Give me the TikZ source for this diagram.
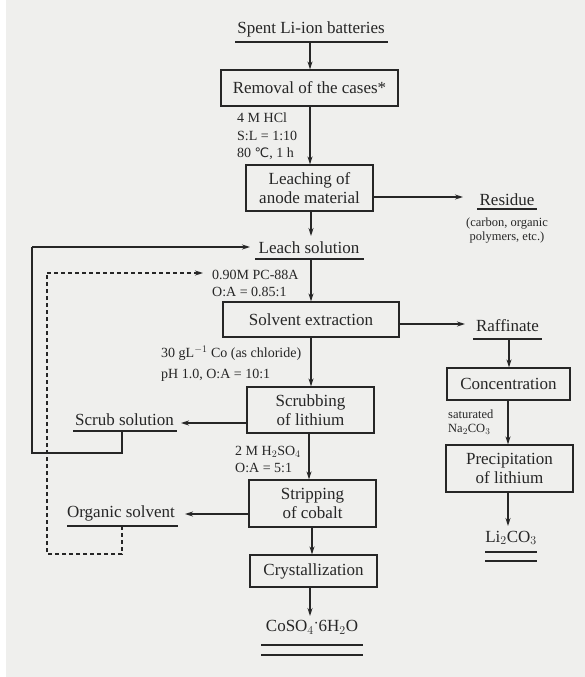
\documentclass[tikz,border=0pt]{standalone}
\usepackage{fontspec}
\setmainfont{Liberation Serif}
\newfontfamily\symfont{DejaVu Sans}
\usetikzlibrary{arrows.meta}
\definecolor{paper}{HTML}{EFEFED}
\definecolor{ink}{HTML}{262626}
\tikzset{
  every node/.style={text=ink, inner sep=0pt},
  proc/.style={draw=ink, line width=1.2pt, fill=paper, align=center, font=\fontsize{17}{19}\selectfont},
  maintext/.style={font=\fontsize{17}{19}\selectfont},
  lbl/.style={font=\fontsize{14}{16}\selectfont, anchor=west},
  small/.style={font=\fontsize{12.5}{14}\selectfont},
  ln/.style={draw=ink, line width=1.2pt},
  arr/.style={ln, -{Stealth[length=8pt,width=5pt]}},
  dsh/.style={ln, dash pattern=on 4pt off 3pt},
  darr/.style={dsh, -{Stealth[length=8pt,width=5pt]}}
}
\begin{document}
\begin{tikzpicture}[x=1pt,y=-1pt]
\useasboundingbox (0,0) rectangle (585,677);
\fill[white] (0,0) rectangle (585,677);
\fill[paper] (6,0) rectangle (585,677);

% main column
\node[maintext] (spent) at (311,29) {Spent Li-ion batteries};
\coordinate (spentL) at (235,42); \coordinate (spentR) at (388,42);
\draw[ln] (spentL) -- (spentR);
\coordinate (spentB) at (310,42);

\node[proc, minimum width=177pt, minimum height=36pt] (removal) at (309.5,88) {Removal of the cases*};
\node[proc, minimum width=127pt, minimum height=46pt] (leach) at (309.5,188) {Leaching of\\anode material};

\node[lbl] (hcl) at (237,118) {4 M HCl};
\node[lbl] (sl) at (237,136) {S:L = 1:10};
\node[lbl] (temp) at (237,154) {80 {\symfont\fontsize{13}{15}\selectfont ℃}, 1 h};

\draw[arr] (spentB) -- (spentB |- removal.north);
\draw[arr] (removal.south -| 310,0) -- (leach.north -| 310,0);

% residue
\node[maintext] (residue) at (507,200) {Residue};
\draw[ln] (477,209) -- (537,209);
\node[small, align=center] (resnote) at (507,231) {(carbon, organic\\polymers, etc.)};
\draw[arr] (leach.east |- 0,197) -- (463,197);

% leach solution
\node[maintext] (leachsol) at (309,248) {Leach solution};
\draw[ln] (255,259) -- (364,259);
\draw[arr] (leach.south -| 311,0) -- (311,236);

\node[lbl] (pc) at (212,275) {0.90M PC-88A};
\node[lbl] (oa1) at (212,292) {O:A = 0.85:1};

\node[proc, minimum width=176pt, minimum height=35pt] (solv) at (311,319.5) {Solvent extraction};
\draw[arr] (311,259) -- (solv.north -| 311,0);

% raffinate
\node[maintext] (raff) at (507.5,326) {Raffinate};
\draw[ln] (473,339) -- (542,339);
\draw[arr] (solv.east |- 0,324) -- (465,324);

\node[proc, minimum width=123pt, minimum height=32pt] (conc) at (508.5,384) {Concentration};
\draw[arr] (509,339) -- (conc.north -| 509,0);

\node[small, anchor=west] (sat) at (448,414) {saturated};
\node[small, anchor=west] (naco) at (448,429) {Na$_2$CO$_3$};

\node[proc, minimum width=127pt, minimum height=47pt] (precip) at (509.5,468.5) {Precipitation\\of lithium};
\draw[arr] (conc.south -| 508,0) -- (precip.north -| 508,0);

\node[maintext] (li) at (511,538) {Li$_2$CO$_3$};
\draw[ln] (485,552) -- (537,552);
\draw[ln] (485,561) -- (537,561);
\draw[arr] (precip.south -| 508,0) -- (508,526);

% scrubbing
\node[lbl] (co) at (161,353) {30 gL$^{-1}$ Co (as chloride)};
\node[lbl] (ph) at (161,375) {pH 1.0, O:A = 10:1};

\node[proc, minimum width=127pt, minimum height=46pt] (scrub) at (310.5,410) {Scrubbing\\of lithium};
\draw[arr] (solv.south -| 311,0) -- (scrub.north -| 311,0);

\node[maintext] (scrubsol) at (124.5,420) {Scrub solution};
\draw[ln] (73,431) -- (177,431);
\draw[arr] (scrub.west |- 0,423) -- (181,423);

% recycle of scrub solution
\coordinate (s1) at (122,431);
\coordinate (s2) at (122,453);
\coordinate (s3) at (32,453);
\coordinate (s4) at (32,247);
\draw[ln] (s1) -- (s2) -- (s3) -- (s4);
\draw[arr] (s4) -- (250,247);

% stripping
\node[lbl] (h2so4) at (235,452) {2 M H$_2$SO$_4$};
\node[lbl] (oa3) at (235,468) {O:A = 5:1};

\node[proc, minimum width=127pt, minimum height=47pt] (strip) at (312.5,503.5) {Stripping\\of cobalt};
\draw[arr] (scrub.south -| 309,0) -- (strip.north -| 309,0);

\node[maintext] (orgsol) at (121,513) {Organic solvent};
\draw[ln] (67,526) -- (178,526);
\draw[arr] (strip.west |- 0,514) -- (185,514);

% dashed recycle of organic solvent
\coordinate (d1) at (122,526);
\coordinate (d2) at (122,554);
\coordinate (d3) at (47,554);
\coordinate (d4) at (47,273);
\draw[dsh] (d1) -- (d2) -- (d3) -- (d4);
\draw[darr] (d4) -- (203,273);

% crystallization
\node[proc, minimum width=127pt, minimum height=32pt] (cryst) at (313.5,571) {Crystallization};
\draw[arr] (strip.south -| 312,0) -- (cryst.north -| 312,0);

\node[maintext] (coso) at (312,627) {CoSO$_4${\raisebox{0.5ex}{$\cdot$}}6H$_2$O};
\draw[ln] (261,645) -- (363,645);
\draw[ln] (261,655) -- (363,655);
\draw[arr] (cryst.south -| 310,0) -- (310,616);
\end{tikzpicture}
\end{document}
